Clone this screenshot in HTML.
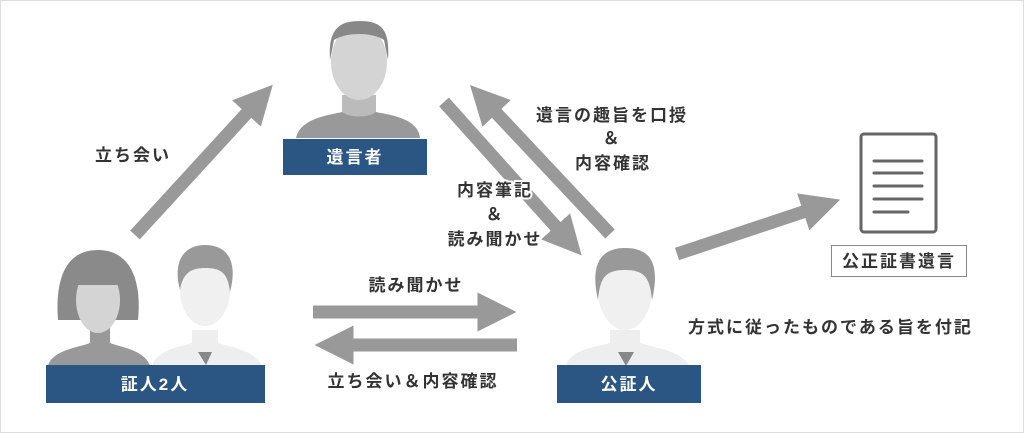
<!DOCTYPE html>
<html><head><meta charset="utf-8"><style>
html,body{margin:0;padding:0;background:#fff}
svg{display:block}
text{font-family:"Liberation Sans","Noto Sans CJK JP",sans-serif;font-size:17px;fill:#333;font-weight:bold;letter-spacing:2px}
.w{fill:#fff;font-size:17px}
.h{stroke:#fff;stroke-width:4px;paint-order:stroke;stroke-linejoin:round}
</style></head><body>
<svg width="1024" height="433" viewBox="0 0 1024 433" xmlns="http://www.w3.org/2000/svg">
<rect x="0.5" y="0.5" width="1023" height="432" fill="#fff" stroke="#ddd"/>
<defs>
<marker id="a" markerWidth="3" markerHeight="3" refX="1.2" refY="1.5" orient="auto" markerUnits="strokeWidth"><path d="M0,0 L3,1.5 L0,3 z" fill="#999"/></marker>
</defs>
<g stroke="#999" stroke-width="13" fill="none" marker-end="url(#a)">
<line x1="135" y1="235" x2="257" y2="102"/>
<line x1="444" y1="102" x2="566" y2="238"/>
<line x1="610" y1="234" x2="486" y2="102"/>
<line x1="677" y1="254" x2="818" y2="207"/>
<line x1="313" y1="312" x2="493" y2="312"/>
<line x1="517" y1="345" x2="338" y2="345"/>
</g>
<!-- 遺言者 -->
<g>
<path d="M296,138 C300,118 330,115 342,112 L342,95 L376,95 L376,112 C390,115 418,118 420,138 Z" fill="#999"/>
<path d="M342,95 L342,112 C350,118 368,118 376,112 L376,95 Z" fill="#bbb"/>
<ellipse cx="359" cy="62" rx="28" ry="38" fill="#d4d4d4"/>
<path d="M330,60 C328,30 338,21 360,21 C382,21 390,30 388,60 L384,40 C372,32 346,32 334,40 Z" fill="#888"/>
</g>
<rect x="283" y="139" width="144" height="36" fill="#2b5684"/>
<text class="w" x="355" y="163" text-anchor="middle">遺言者</text>
<!-- woman -->
<path d="M48,366 C52,350 80,347 90,343 L90,325 L110,325 L110,343 C120,347 145,350 150,366 Z" fill="#999"/>
<path d="M98,250 C65,250 55,280 58,320 L138,320 C142,280 130,250 98,250 Z" fill="#8a8a8a"/>
<ellipse cx="98" cy="300" rx="22" ry="33" fill="#d4d4d4"/>
<path d="M75,285 L75,270 C85,262 112,262 121,270 L121,285 Z" fill="#8a8a8a"/>
<!-- man witness -->
<path d="M152,366 C156,350 180,347 192,343 L192,330 L218,330 L218,343 C230,347 255,350 262,366 Z" fill="#eee"/>
<path d="M198,352 L212,352 L206,365 Z" fill="#888"/>
<ellipse cx="205" cy="290" rx="25" ry="36" fill="#f0f0f0"/>
<path d="M180,290 C172,260 185,245 205,245 C228,245 238,262 230,292 C228,272 220,268 205,268 C192,268 183,272 180,290 Z" fill="#999"/>
<rect x="46" y="365" width="219" height="38" fill="#2b5684"/>
<text class="w" x="155" y="390" text-anchor="middle">証人2人</text>
<!-- notary -->
<path d="M566,366 C570,350 595,347 610,343 L610,330 L640,330 L640,343 C652,347 680,350 690,366 Z" fill="#eee"/>
<path d="M618,352 L634,352 L626,366 Z" fill="#888"/>
<ellipse cx="625" cy="290" rx="27" ry="40" fill="#f0f0f0"/>
<path d="M598,300 C590,265 600,248 625,248 C652,248 660,265 652,300 C650,278 645,270 625,270 C605,270 600,278 598,300 Z" fill="#999"/>
<rect x="557" y="365" width="144" height="38" fill="#2b5684"/>
<text class="w" x="629" y="390" text-anchor="middle">公証人</text>
<!-- document -->
<rect x="861" y="134" width="75" height="98" rx="3" fill="#fff" stroke="#666" stroke-width="3"/>
<g stroke="#666" stroke-width="3" stroke-linecap="round">
<line x1="874" y1="161" x2="922" y2="161"/><line x1="874" y1="173" x2="922" y2="173"/>
<line x1="874" y1="186" x2="922" y2="186"/><line x1="874" y1="199" x2="922" y2="199"/>
<line x1="874" y1="212" x2="908" y2="212"/>
</g>
<rect x="831.5" y="245.5" width="135" height="31" fill="#fff" stroke="#888"/>
<text x="899" y="267" text-anchor="middle">公正証書遺言</text>
<!-- labels -->
<text x="95" y="161">立ち会い</text>
<text class="h" x="612" y="121" text-anchor="middle">遺言の趣旨を口授</text>
<text class="h" x="612" y="144" text-anchor="middle">＆</text>
<text class="h" x="613" y="169" text-anchor="middle">内容確認</text>
<text class="h" x="495" y="196" text-anchor="middle">内容筆記</text>
<text class="h" x="495" y="220" text-anchor="middle">＆</text>
<text class="h" x="495" y="245" text-anchor="middle">読み聞かせ</text>
<text x="416" y="291" text-anchor="middle">読み聞かせ</text>
<text x="413" y="387" text-anchor="middle">立ち会い＆内容確認</text>
<text x="688" y="333">方式に従ったものである旨を付記</text>
</svg>
</body></html>
